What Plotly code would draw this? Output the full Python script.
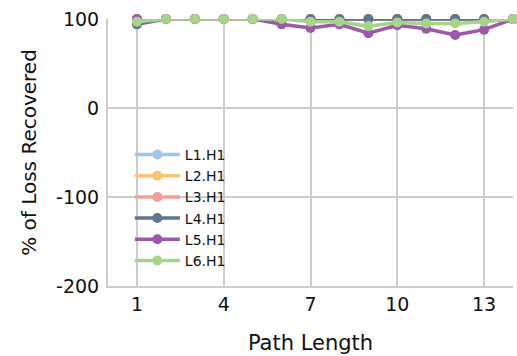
import plotly.graph_objects as go

path_length = list(range(1, 15))
names = ["L1.H1", "L2.H1", "L3.H1", "L4.H1", "L5.H1", "L6.H1"]
colors = ["#a3c4e8", "#fdc46f", "#f0a097", "#5f758e", "#9b59a9", "#a9d38b"]
l1 = [100, 100, 100, 100, 100, 100, 100, 100, 100, 100, 100, 100, 100, 100]
l2 = [100, 100, 100, 100, 100, 100, 100, 100, 100, 100, 100, 100, 100, 100]
l3 = [100, 100, 100, 100, 100, 100, 100, 100, 100, 100, 100, 100, 100, 100]
l4 = [94, 100, 100, 100, 100, 100, 100, 100, 100, 100, 100, 100, 100, 100]
l5 = [100, 100, 100, 100, 100, 94, 90, 94, 84, 93, 89, 82, 88, 100]
l6 = [97, 100, 100, 100, 100, 100, 97, 97, 92, 96, 95, 95, 97, 100]
series = [l1, l2, l3, l4, l5, l6]
x_ticks = [1, 4, 7, 10, 13]
y_ticks = [-200, -100, 0, 100]
y_ticklabels = ["-200", "-100", "0", "100"]

fig = go.Figure()
for n, c, s in zip(names, colors, series):
    fig.add_trace(go.Scatter(x=path_length, y=s, name=n, mode="lines+markers",
                             line=dict(color=c, width=3.5),
                             marker=dict(color=c, size=10),
                             cliponaxis=False))

font = "DejaVu Sans, sans-serif"
fig.update_layout(
    width=517, height=356,
    margin=dict(l=108, r=4, t=19, b=70),
    plot_bgcolor="white", paper_bgcolor="white",
    font=dict(family=font, size=19, color="#111"),
    showlegend=True,
    legend=dict(x=0.054, y=0.551, xanchor="left", yanchor="top",
                bgcolor="rgba(0,0,0,0)", font=dict(size=14),
                itemwidth=45, tracegroupgap=0),
    xaxis=dict(range=[0, 14], tickvals=x_ticks,
               showgrid=True, gridcolor="#cccccc", gridwidth=2,
               showline=True, linecolor="#cccccc", linewidth=2,
               zeroline=False, ticks="",
               title=dict(text="Path Length", font=dict(size=21), standoff=22)),
    yaxis=dict(range=[-200, 100], tickvals=y_ticks, ticktext=y_ticklabels,
               showgrid=True, gridcolor="#cccccc", gridwidth=2,
               showline=True, linecolor="#cccccc", linewidth=2,
               zeroline=False, ticks="", ticklabelstandoff=3,
               title=dict(text="% of Loss Recovered", font=dict(size=20), standoff=14)),
)
fig.write_html("out.html", config={"displayModeBar": False},
               post_script="document.body.style.margin='0';")
